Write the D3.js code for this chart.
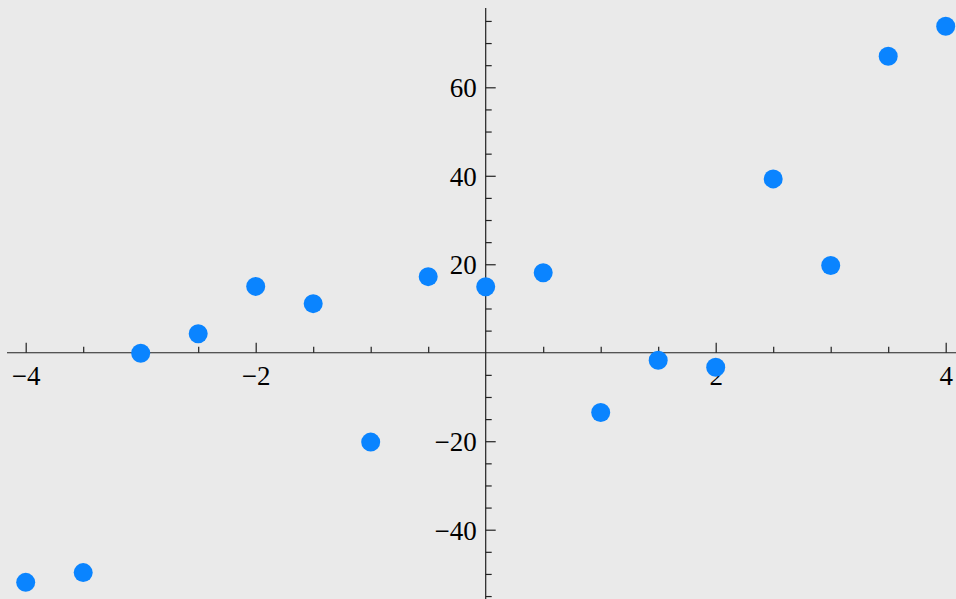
<!DOCTYPE html>
<html>
<head>
<meta charset="utf-8">
<script src="https://cdn.jsdelivr.net/npm/d3@7"></script>
<style>
  html, body { margin: 0; padding: 0; background: #eaeaea; }
  svg { display: block; }
</style>
</head>
<body>
<svg id="chart" width="956" height="599"></svg>
<script>
// Data
const xValues = [-4, -3.5, -3, -2.5, -2, -1.5, -1, -0.5, 0, 0.5, 1, 1.5, 2, 2.5, 3, 3.5, 4];
const yValues = [-51.9, -49.7, -0.1, 4.3, 15.0, 11.1, -20.2, 17.2, 14.9, 18.1, -13.5, -1.7, -3.3, 39.3, 19.7, 67.0, 73.8];
const xMajorTicks = [-4, -2, 2, 4];
const xMinorTicks = [-3.5, -3, -2.5, -1.5, -1, -0.5, 0.5, 1, 1.5, 2.5, 3, 3.5];
const yMajorTicks = [-40, -20, 20, 40, 60];
const yMinorTicks = [-55, -50, -45, -35, -30, -25, -15, -10, -5, 5, 10, 15, 25, 30, 35, 45, 50, 55, 65, 70, 75];

const W = 956, H = 599;
const svg = d3.select("#chart");
svg.append("rect").attr("width", W).attr("height", H).attr("fill", "#eaeaea");

const x = d3.scaleLinear().domain([-4, 4]).range([25.7, 945.7]);
const y = d3.scaleLinear().domain([-40, 60]).range([529.7, 87.3]);

const axisColor = "#222";
const fontSize = 27;
const fontFamily = "'Liberation Serif', 'DejaVu Serif', serif";

// X axis
const gx = svg.append("g").attr("transform", `translate(0,${y(0)})`);
gx.append("line").attr("x1", 7).attr("x2", W).attr("y1", 0).attr("y2", 0)
  .attr("stroke", axisColor).attr("stroke-width", 1.2);
const xMinorAxis = d3.axisBottom(x).tickValues(xMinorTicks).tickSizeInner(-6).tickSizeOuter(0).tickFormat("");
const xMajorAxis = d3.axisBottom(x).tickValues(xMajorTicks).tickSizeInner(-10).tickSizeOuter(0);
gx.append("g").call(xMinorAxis);
gx.append("g").call(xMajorAxis);
gx.selectAll(".domain").remove();
gx.selectAll(".tick line").attr("stroke", axisColor).attr("stroke-width", 1.2);
gx.selectAll(".tick text").attr("y", 32.5).attr("dy", 0)
  .style("font-size", fontSize + "px").style("font-family", fontFamily).attr("fill", "#000");

// Y axis
const gy = svg.append("g").attr("transform", `translate(${x(0)},0)`);
gy.append("line").attr("x1", 0).attr("x2", 0).attr("y1", 8).attr("y2", H)
  .attr("stroke", axisColor).attr("stroke-width", 1.2);
const yMinorAxis = d3.axisLeft(y).tickValues(yMinorTicks).tickSizeInner(-6).tickSizeOuter(0).tickFormat("");
const yMajorAxis = d3.axisLeft(y).tickValues(yMajorTicks).tickSizeInner(-10).tickSizeOuter(0);
gy.append("g").call(yMinorAxis);
gy.append("g").call(yMajorAxis);
gy.selectAll(".domain").remove();
gy.selectAll(".tick line").attr("stroke", axisColor).attr("stroke-width", 1.2);
gy.selectAll(".tick text").attr("x", -9).attr("dy", 9.6)
  .style("font-size", fontSize + "px").style("font-family", fontFamily).attr("fill", "#000");

// Points
svg.append("g").selectAll("circle")
  .data(xValues.map((v, i) => [v, yValues[i]]))
  .join("circle")
  .attr("cx", d => x(d[0]))
  .attr("cy", d => y(d[1]))
  .attr("r", 9.5)
  .attr("fill", "#0a84ff");
</script>
</body>
</html>
